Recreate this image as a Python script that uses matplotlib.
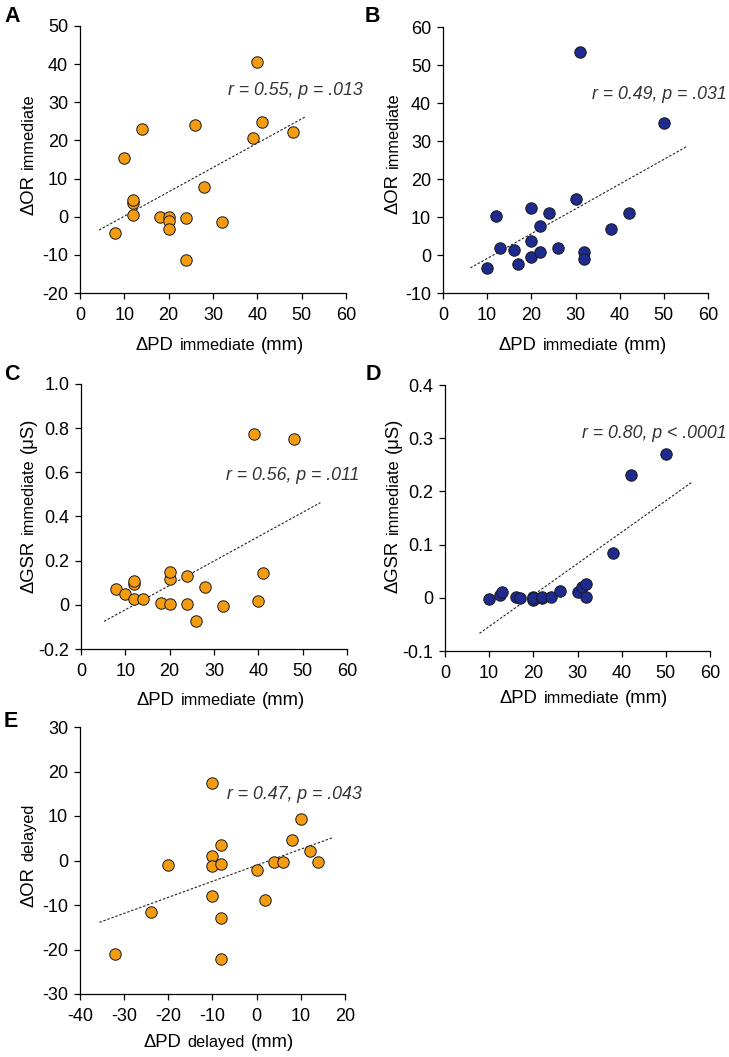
import numpy as np
import matplotlib
matplotlib.use('Agg')
import matplotlib.pyplot as plt
from matplotlib.transforms import IdentityTransform

plt.rcParams['font.family'] = ['Liberation Sans', 'DejaVu Sans']
plt.rcParams['axes.unicode_minus'] = False

# --- data ---
# orange group (panels A, C): pupil dilation immediate vs OR / GSR
pd_imm_orange = [8, 10, 12, 12, 12, 14, 18, 20, 20, 20, 24, 24, 26, 28, 32, 39, 40, 41, 48]
or_imm_orange = [-4.4, 15.5, 0.4, 3.5, 4.5, 22.9, 0.0, 0.0, -1.0, -3.3, -0.4, -11.4, 24.0, 7.8, -1.5, 20.7, 40.6, 24.8, 22.1]
pd_gsr_orange = [8, 10, 12, 12, 12, 14, 18, 20, 20, 20, 24, 24, 26, 28, 32, 39, 40, 41, 48]
gsr_imm_orange = [0.072, 0.047, 0.028, 0.095, 0.11, 0.028, 0.010, 0.003, 0.117, 0.148, 0.130, 0.003, -0.073, 0.079, -0.004, 0.772, 0.018, 0.144, 0.752]

# blue group (panels B, D)
pd_imm_blue = [10, 12, 13, 16, 17, 20, 20, 20, 22, 22, 24, 26, 30, 31, 32, 32, 38, 42, 50]
or_imm_blue = [-3.4, 10.3, 1.8, 1.2, -2.3, 12.5, 3.7, -0.5, 7.7, 0.8, 11.1, 1.8, 14.7, 53.3, 0.7, -1.0, 6.9, 11.0, 34.7]
pd_gsr_blue = [10, 12.5, 13, 16, 17, 20, 20, 20, 22, 22, 24, 26, 30, 31, 32, 32, 38, 42, 50]
gsr_imm_blue = [-0.003, 0.005, 0.010, 0.002, -0.001, 0.002, -0.004, 0.0, -0.001, 0.001, 0.002, 0.012, 0.010, 0.020, 0.026, 0.002, 0.085, 0.231, 0.270]

# orange group delayed (panel E)
pd_del_orange = [-32, -24, -20, -10, -10, -10, -10, -8, -8, -8, -8, 0, 2, 4, 6, 8, 10, 12, 14]
or_del_orange = [-20.9, -11.5, -1.1, 17.5, 0.9, -1.2, -7.9, 3.5, -0.8, -13.0, -22.2, -2.1, -8.9, -0.4, -0.4, 4.6, 9.3, 2.1, -0.4]

# fitted lines (slope, intercept, x from, x to) as drawn in the figure
fit_a = (0.638, -6.24, 4.3, 50.7)
fit_b = (0.652, -7.44, 6.2, 55.1)
fit_c = (0.01102, -0.1323, 5.2, 54.0)
fit_d = (0.00591, -0.113, 7.8, 55.8)
fit_e = (0.3605, -1.065, -35.6, 17.1)

stats_a = 'r = 0.55, p = .013'
stats_b = 'r = 0.49, p = .031'
stats_c = 'r = 0.56, p = .011'
stats_d = 'r = 0.80, p < .0001'
stats_e = 'r = 0.47, p = .043'

ORANGE = '#F39C12'
BLUE = '#1F2A8F'

W, H = 729, 1057
fig = plt.figure(figsize=(W / 100, H / 100), dpi=100)


def px_axes(left, top, right, bottom):
    return fig.add_axes([left / W, 1 - bottom / H, (right - left) / W, (bottom - top) / H])


def style_axes(ax, xlim, ylim, xticks, yticks, ylabels):
    for s in ['top', 'right']:
        ax.spines[s].set_visible(False)
    for s in ['left', 'bottom']:
        ax.spines[s].set_linewidth(0.9)
    ax.set_xlim(*xlim)
    ax.set_ylim(*ylim)
    ax.set_xticks(xticks)
    ax.set_yticks(yticks)
    ax.set_yticklabels(ylabels)
    ax.tick_params(direction='out', length=4, width=0.9, labelsize=13)
    ax.tick_params(axis='x', pad=6)
    ax.tick_params(axis='y', pad=4.5)


def draw_panel(ax, x, y, color, fit, stats, stat_pos):
    ax.scatter(x, y, s=68, c=color, edgecolors='#1a1a1a', linewidths=0.7, zorder=3, clip_on=False)
    slope, icpt, x0, x1 = fit
    xs = np.array([x0, x1])
    ax.plot(xs, slope * xs + icpt, color='#222222', lw=0.8, ls=(0, (2.2, 1.6)), zorder=2)
    ax.text(stat_pos[0], stat_pos[1], stats, transform=ax.transAxes, ha='right', va='center',
            fontsize=12.8, style='italic', color='#333333')


def mixed_label(parts, cx, cy, rotation=0, gap=6):
    # parts of different size laid out along the baseline, centred on (cx, cy) in pixels
    renderer = fig.canvas.get_renderer()
    texts, lengths = [], []
    for s, size in parts:
        t = fig.text(0, 0, s, fontsize=size, rotation=rotation, ha='left', va='baseline',
                     rotation_mode='anchor', transform=IdentityTransform())
        bb = t.get_window_extent(renderer)
        lengths.append(bb.width if rotation == 0 else bb.height)
        texts.append(t)
    total = sum(lengths) + gap * (len(parts) - 1)
    pos = (cx if rotation == 0 else cy) - total / 2
    for t, L in zip(texts, lengths):
        if rotation == 0:
            t.set_position((pos, cy))
        else:
            t.set_position((cx, pos))
        pos += L + gap


def panel_letter(letter, x, y):
    fig.text(x / W, 1 - y / H, letter, fontsize=15.5, fontweight='bold', ha='left', va='top')


axA = px_axes(80, 26, 346, 293)
axB = px_axes(443, 27, 708, 293)
axC = px_axes(81, 384, 347, 649)
axD = px_axes(445, 385, 710, 651)
axE = px_axes(80, 727, 345, 994)

draw_panel(axA, pd_imm_orange, or_imm_orange, ORANGE, fit_a, stats_a, (1.064, 0.757))
draw_panel(axB, pd_imm_blue, or_imm_blue, BLUE, fit_b, stats_b, (1.072, 0.748))
draw_panel(axC, pd_gsr_orange, gsr_imm_orange, ORANGE, fit_c, stats_c, (1.045, 0.653))
draw_panel(axD, pd_gsr_blue, gsr_imm_blue, BLUE, fit_d, stats_d, (1.064, 0.816))
draw_panel(axE, pd_del_orange, or_del_orange, ORANGE, fit_e, stats_e, (1.064, 0.749))

style_axes(axA, (0, 60), (-20, 50), range(0, 61, 10), range(-20, 51, 10),
           [str(v) for v in range(-20, 51, 10)])
style_axes(axB, (0, 60), (-10, 60), range(0, 61, 10), range(-10, 61, 10),
           [str(v) for v in range(-10, 61, 10)])
style_axes(axC, (0, 60), (-0.2, 1.0), range(0, 61, 10), [-0.2, 0, 0.2, 0.4, 0.6, 0.8, 1.0],
           ['-0.2', '0', '0.2', '0.4', '0.6', '0.8', '1.0'])
style_axes(axD, (0, 60), (-0.1, 0.4), range(0, 61, 10), [-0.1, 0, 0.1, 0.2, 0.3, 0.4],
           ['-0.1', '0', '0.1', '0.2', '0.3', '0.4'])
style_axes(axE, (-40, 20), (-30, 30), range(-40, 21, 10), range(-30, 31, 10),
           [str(v) for v in range(-30, 31, 10)])

fig.canvas.draw()

BIG, SMALL = 13.3, 11.8
xlab_imm = [('\u0394PD', BIG), ('immediate', SMALL), ('(mm)', BIG)]
xlab_del = [('\u0394PD', BIG), ('delayed', SMALL), ('(mm)', BIG)]
# x labels: centre x, baseline y (pixels from top)
mixed_label(xlab_imm, 220, H - 350)
mixed_label(xlab_imm, 583, H - 350)
mixed_label(xlab_imm, 221, H - 705)
mixed_label(xlab_imm, 584, H - 703)
mixed_label(xlab_del, 219, H - 1047)
# y labels: baseline x, centre y
mixed_label([('\u0394OR', BIG), ('immediate', SMALL)], 33, H - 154, rotation=90)
mixed_label([('\u0394OR', BIG), ('immediate', SMALL)], 398, H - 153, rotation=90)
mixed_label([('\u0394GSR', BIG), ('immediate', SMALL), ('(\u03bcS)', BIG)], 33, H - 505, rotation=90)
mixed_label([('\u0394GSR', BIG), ('immediate', SMALL), ('(\u03bcS)', BIG)], 398, H - 505, rotation=90)
mixed_label([('\u0394OR', BIG), ('delayed', SMALL)], 33, H - 855, rotation=90)

panel_letter('A', 4, 6)
panel_letter('B', 365, 6)
panel_letter('C', 4, 364)
panel_letter('D', 366, 364)
panel_letter('E', 4, 711)

fig.savefig('out.png', dpi=100)
